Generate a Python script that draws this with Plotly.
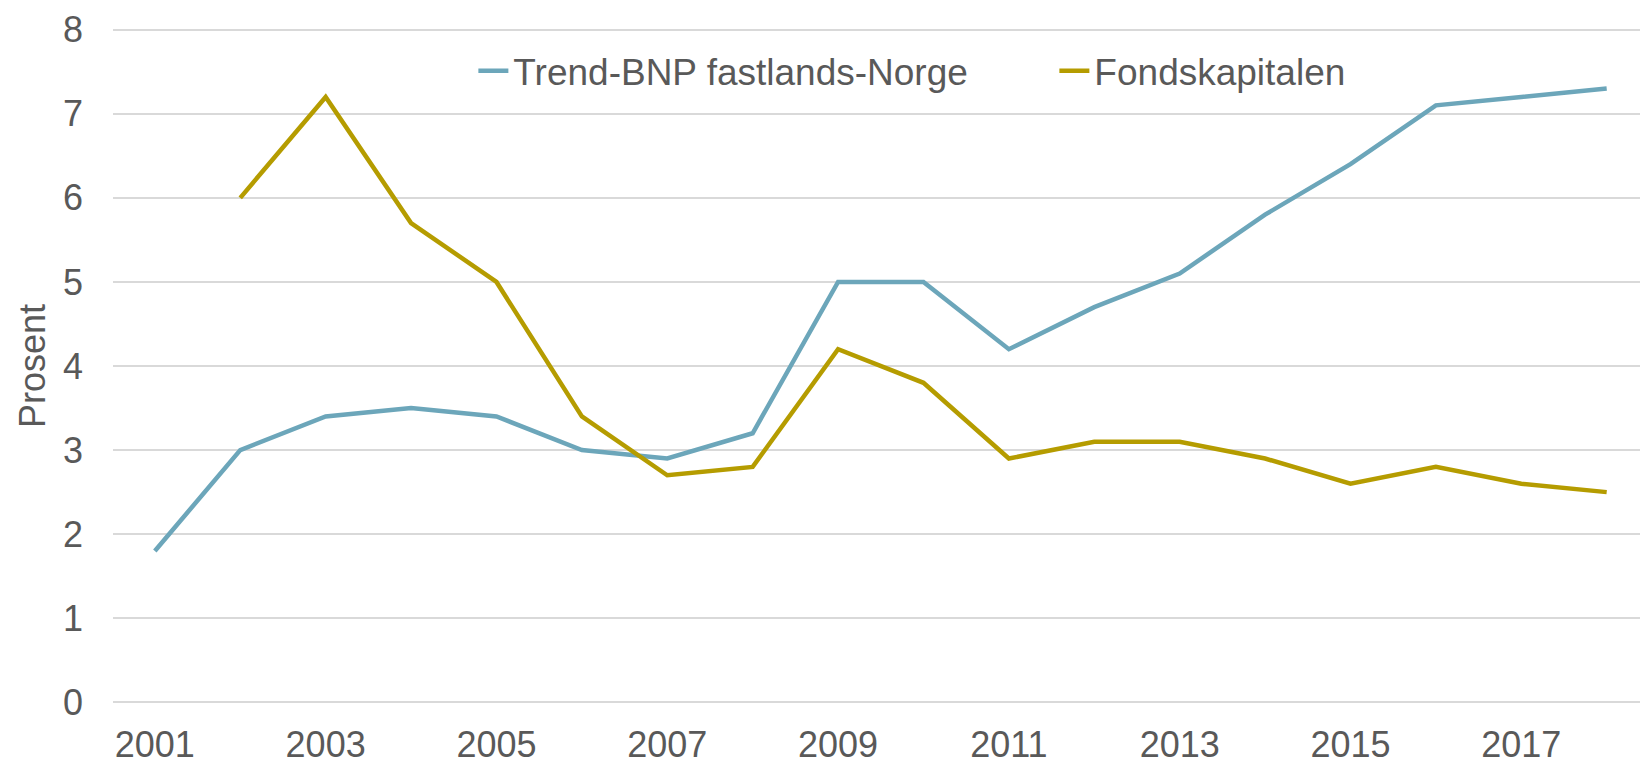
import plotly.graph_objects as go

years = list(range(2001, 2019))
trend_bnp = [1.8, 3.0, 3.4, 3.5, 3.4, 3.0, 2.9, 3.2, 5.0, 5.0, 4.2, 4.7, 5.1, 5.8, 6.4, 7.1, 7.2, 7.3]
fondskapital = [None, 6.0, 7.2, 5.7, 5.0, 3.4, 2.7, 2.8, 4.2, 3.8, 2.9, 3.1, 3.1, 2.9, 2.6, 2.8, 2.6, 2.5]
series_names = ["Trend-BNP fastlands-Norge", "Fondskapitalen"]
colors = ["#6CA6BA", "#B59C00"]

fig = go.Figure()
for name, vals, col in zip(series_names, [trend_bnp, fondskapital], colors):
    fig.add_trace(go.Scatter(x=years, y=vals, name=name, mode="lines",
                             line=dict(color=col, width=4.5), connectgaps=False))

tick_font = dict(family="Liberation Sans, Arial, sans-serif", size=36, color="#595959")
leg_font = dict(family="Liberation Sans, Arial, sans-serif", size=37, color="#595959")
fig.update_layout(
    width=1640, height=764,
    margin=dict(l=113, r=0, t=28, b=60, autoexpand=False),
    plot_bgcolor="white", paper_bgcolor="white",
    font=tick_font,
    showlegend=True,
    legend=dict(orientation="h", x=0.236, y=0.936, xanchor="left", yanchor="middle",
                font=leg_font, entrywidth=536, entrywidthmode="pixels",
                bgcolor="rgba(0,0,0,0)", itemwidth=30),
    xaxis=dict(range=[2000.51, 2018.39], tickmode="linear", tick0=2001, dtick=2,
               showgrid=False, zeroline=False, showline=False, ticks="",
               tickfont=tick_font, ticklabelstandoff=16, automargin=False),
    yaxis=dict(range=[-0.02, 8.02], tickmode="linear", tick0=0, dtick=1,
               showgrid=True, gridcolor="#D9D9D9", gridwidth=2,
               zeroline=False, showline=False, ticks="", tickfont=tick_font,
               ticklabelstandoff=29, automargin=False,
               title=dict(text="Prosent", font=tick_font, standoff=6)),
)
fig.write_html("out.html", config={"displayModeBar": False},
               post_script="document.body.style.margin='0';document.body.style.overflow='hidden';")
